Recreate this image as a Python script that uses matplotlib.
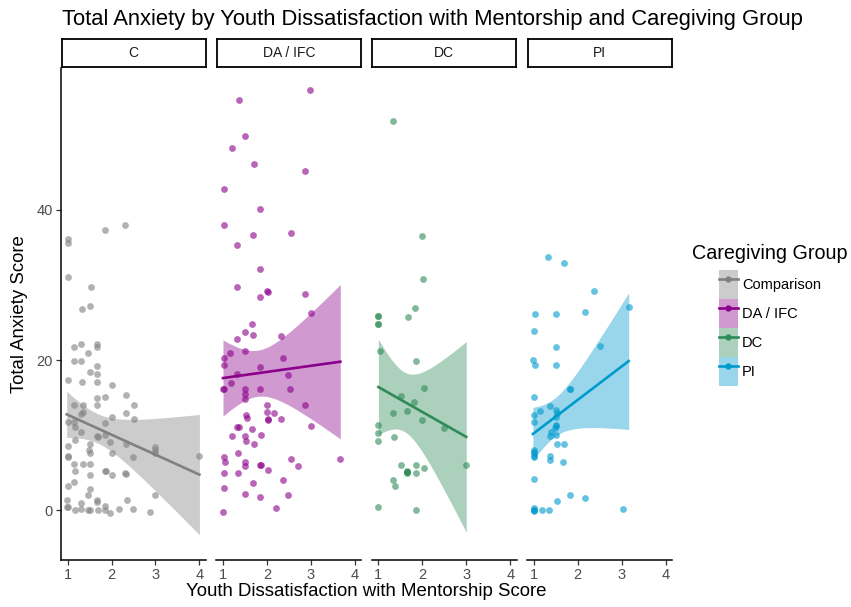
import numpy as np
import matplotlib
matplotlib.use("Agg")
import matplotlib.pyplot as plt
from matplotlib.patches import Patch
from matplotlib.lines import Line2D

plt.rcParams["font.family"] = ["Liberation Sans", "DejaVu Sans"]

# ---- data (jittered points, per caregiving group) ----
groups = ["Comparison", "DA / IFC", "DC", "PI"]
strip_labels = ["C", "DA / IFC", "DC", "PI"]
line_colors = ["#808080", "#8B008B", "#2E8B57", "#009ACD"]

comp_x = [1.00, 1.02, 1.84, 2.31, 1.02, 1.53, 1.50, 1.32, 1.15, 1.30, 1.66, 1.66, 1.47, 1.15, 1.30,
          1.68, 1.50, 1.66, 1.02, 1.32, 1.66, 2.00, 2.33, 1.66, 1.84, 1.68, 1.14, 1.35, 2.52, 1.34,
          1.30, 2.33, 2.51, 2.01, 1.00, 1.14, 1.85, 1.16, 1.16, 1.30, 1.66, 1.69, 1.84, 1.50, 1.49,
          1.50, 1.97, 2.32, 2.02, 3.00, 3.00, 3.00, 1.00, 1.00, 1.02, 2.49, 4.00, 1.15, 1.35, 1.50,
          1.17, 1.85, 1.87, 1.52, 2.00, 2.31, 2.33, 1.14, 1.00, 1.50, 1.47, 2.35, 0.98, 1.66, 1.66,
          1.30, 3.00, 0.98, 1.02, 1.17, 1.30, 1.47, 1.50, 1.69, 1.85, 1.97, 1.85, 2.18, 2.48, 2.87]
comp_y = [35.6, 36.1, 37.3, 38.0, 31.1, 29.7, 27.2, 26.8, 21.8, 22.1, 22.1, 21.8, 21.0, 19.9, 19.9,
          19.2, 18.4, 18.2, 17.4, 17.1, 17.1, 16.7, 15.3, 15.0, 15.1, 14.0, 14.1, 14.0, 14.0, 13.1,
          12.8, 13.0, 12.2, 12.4, 11.8, 11.8, 11.7, 11.1, 9.4, 10.4, 9.9, 9.8, 10.1, 8.9, 8.0,
          7.7, 9.1, 8.9, 7.6, 8.4, 8.0, 7.6, 8.6, 7.3, 7.1, 7.1, 7.2, 6.2, 6.2, 6.2,
          5.3, 5.3, 5.2, 4.7, 4.7, 5.0, 4.8, 3.8, 3.2, 2.9, 2.1, 1.4, 1.4, 1.4, 1.1,
          1.0, 2.1, 0.4, 0.4, 0.1, 0.2, 0.1, 0.0, 0.0, 0.0, -0.3, 0.6, 0.2, 0.2, -0.2]

da_x = [1.36, 2.99, 1.50, 1.21, 1.70, 2.87, 1.02, 1.84, 1.02, 1.68, 2.54, 1.32, 1.85, 1.32, 2.01,
        2.02, 1.84, 2.86, 3.01, 1.66, 1.51, 1.68, 1.33, 2.33, 1.17, 1.50, 1.02, 1.02, 2.36, 1.85,
        1.33, 1.18, 2.48, 1.00, 1.02, 1.51, 1.51, 1.51, 1.85, 2.52, 2.87, 2.00, 2.00, 1.53, 1.54,
        2.02, 2.03, 2.17, 2.33, 1.32, 1.36, 1.66, 3.01, 1.21, 1.51, 1.53, 1.70, 1.87, 1.34, 1.02,
        1.04, 1.50, 1.50, 1.84, 1.87, 2.02, 2.54, 2.71, 3.67, 1.02, 1.34, 1.68, 2.36, 1.02, 1.49,
        1.84, 2.48, 2.20, 1.00]
da_y = [54.6, 56.0, 49.8, 48.2, 46.1, 45.2, 42.8, 40.1, 38.0, 36.7, 37.0, 35.3, 32.1, 29.7, 29.2,
        29.1, 28.4, 28.8, 26.3, 24.8, 23.7, 23.4, 22.8, 23.2, 21.0, 21.2, 20.3, 19.4, 20.3, 19.1,
        18.1, 17.0, 18.0, 16.2, 16.2, 16.2, 15.5, 14.9, 16.2, 16.2, 14.1, 14.1, 13.1, 12.7, 12.3,
        12.2, 12.0, 13.0, 12.2, 11.1, 11.1, 10.9, 11.2, 9.9, 9.9, 9.2, 8.9, 10.0, 7.6, 7.1,
        6.4, 6.4, 5.9, 6.1, 6.0, 5.4, 6.8, 5.9, 6.8, 5.0, 5.0, 3.7, 4.1, 3.0, 2.2,
        1.8, 2.0, 0.3, -0.2]

dc_x = [1.33, 2.00, 2.02, 1.84, 1.68, 1.00, 1.00, 1.00, 1.00, 1.04, 1.86, 2.03, 1.51, 1.82, 1.34,
        1.65, 1.99, 1.00, 1.00, 1.00, 1.35, 2.50, 1.51, 1.86, 2.03, 3.00, 1.66, 1.66, 1.66, 1.66,
        1.86, 1.34, 1.37, 1.00, 1.86]
dc_y = [51.8, 36.6, 30.8, 26.9, 25.8, 25.9, 25.9, 24.8, 24.8, 21.2, 19.9, 16.3, 15.2, 14.4, 13.0,
        13.2, 12.1, 11.4, 10.3, 9.2, 9.8, 11.0, 6.0, 6.1, 5.7, 6.0, 5.1, 5.1, 5.2, 5.0,
        5.0, 4.1, 3.2, 0.4, 0.0]

pi_x = [1.32, 1.68, 2.36, 1.02, 1.51, 2.16, 3.16, 1.00, 1.51, 2.50, 0.98, 1.03, 1.51, 1.82, 1.82,
        1.00, 1.37, 1.15, 1.00, 1.00, 1.51, 1.52, 1.50, 1.50, 1.51, 1.49, 1.40, 1.37, 1.51, 1.52,
        1.69, 1.00, 1.00, 1.00, 1.00, 1.01, 1.37, 1.36, 1.66, 1.00, 1.83, 2.17, 1.52, 1.00, 1.00,
        1.00, 1.01, 1.18, 1.35, 3.03]
pi_y = [33.8, 32.9, 29.2, 26.1, 26.1, 26.4, 27.1, 23.9, 21.8, 21.9, 20.0, 19.3, 19.3, 16.2, 16.2,
        15.1, 13.9, 13.2, 12.7, 11.8, 13.4, 13.0, 12.5, 11.4, 11.2, 11.0, 10.4, 9.9, 10.1, 8.9,
        8.8, 8.0, 7.8, 7.6, 7.3, 7.1, 7.2, 6.7, 6.4, 4.2, 2.1, 1.7, 1.3, 0.3, 0.1,
        0.0, -0.1, 0.0, 0.0, 0.2]

xs_all = [comp_x, da_x, dc_x, pi_x]
ys_all = [comp_y, da_y, dc_y, pi_y]


def t_quantile(dof, z=1.959964):
    # Cornish-Fisher expansion of the t quantile (0.975)
    return z + (z**3 + z) / (4 * dof) + (5 * z**5 + 16 * z**3 + 3 * z) / (96 * dof**2)


def lm_band(x, y, n=80):
    """OLS fit with 95% confidence band, like geom_smooth(method='lm')."""
    x = np.asarray(x, float); y = np.asarray(y, float)
    X = np.column_stack([np.ones_like(x), x])
    beta = np.linalg.lstsq(X, y, rcond=None)[0]
    resid = y - X @ beta
    dof = len(x) - 2
    s2 = resid @ resid / dof
    inv = np.linalg.inv(X.T @ X)
    grid = np.linspace(x.min(), x.max(), n)
    G = np.column_stack([np.ones_like(grid), grid])
    fit = G @ beta
    se = np.sqrt(s2 * np.einsum("ij,jk,ik->i", G, inv, G))
    t = t_quantile(dof)
    return grid, fit, fit - t * se, fit + t * se


W, H = 851, 607
fig = plt.figure(figsize=(W / 100, H / 100), dpi=100)

p_left, p_w, p_gap = 61, 145, 10.4
p_top, p_bot = 68, 560
s_top, s_bot = 39, 67

for i in range(4):
    x0 = p_left + i * (p_w + p_gap)
    ax = fig.add_axes([x0 / W, 1 - p_bot / H, p_w / W, (p_bot - p_top) / H])
    col = line_colors[i]
    ax.scatter(xs_all[i], ys_all[i], s=24, color=col, alpha=0.6, linewidths=0, zorder=2)
    gx, fit, lo, hi = lm_band(xs_all[i], ys_all[i])
    ax.fill_between(gx, lo, hi, color=col, alpha=0.4, linewidth=0, zorder=3)
    ax.plot(gx, fit, color=col, lw=1.9, zorder=4)

    ax.set_xlim(0.85, 4.15)
    ax.set_ylim(-6.6, 58.9)
    ax.set_xticks([1, 2, 3, 4])
    ax.set_yticks([0, 20, 40])
    for s in ["top", "right"]:
        ax.spines[s].set_visible(False)
    ax.spines["bottom"].set_linewidth(1.1)
    ax.spines["left"].set_linewidth(1.1)
    ax.tick_params(length=3.5, width=0.9, color="#333333", labelcolor="#4D4D4D",
                   labelsize=10.5, pad=2.5)
    if i > 0:
        ax.spines["left"].set_visible(False)
        ax.tick_params(axis="y", left=False, labelleft=False)

    # facet strip
    sax = fig.add_axes([(x0 + 0.5) / W, 1 - s_bot / H, (p_w - 1) / W, (s_bot - s_top) / H])
    sax.set_xticks([]); sax.set_yticks([])
    for s in sax.spines.values():
        s.set_linewidth(1.3)
    sax.text(0.5, 0.5, strip_labels[i], ha="center", va="center", fontsize=10,
             color="#1A1A1A", transform=sax.transAxes)

fig.text(62 / W, 1 - 25 / H, "Total Anxiety by Youth Dissatisfaction with Mentorship and Caregiving Group",
         fontsize=15.8, ha="left", va="baseline")
fig.text(366 / W, 1 - 592 / H, "Youth Dissatisfaction with Mentorship Score", fontsize=13.4,
         ha="center", va="center")
fig.text(20 / W, 1 - 314 / H, "Total Anxiety Score", fontsize=13.4, rotation=90,
         ha="center", va="center")

handles = [(Patch(facecolor=c, alpha=0.4, linewidth=0),
            Line2D([], [], color=c, lw=1.9, marker="o", markersize=3.5)) for c in line_colors]
leg = fig.legend(handles, groups, loc="upper center", bbox_to_anchor=(770 / W, 1 - 244 / H),
                 frameon=False, title="Caregiving Group", title_fontsize=14.2, fontsize=10.5,
                 handlelength=1.3, handleheight=2.68, labelspacing=0, handletextpad=0.3,
                 borderpad=0, borderaxespad=0)
leg._legend_box.sep = 5  # gap between legend title and keys

fig.savefig("out.png", dpi=100)
